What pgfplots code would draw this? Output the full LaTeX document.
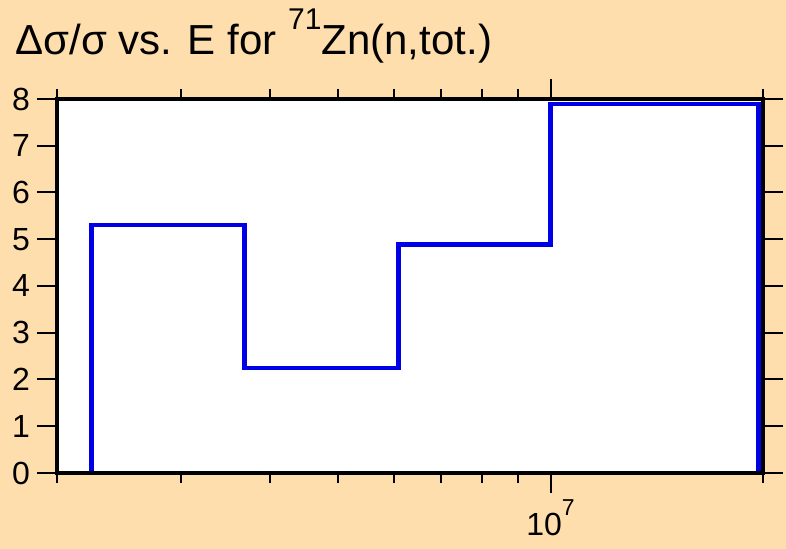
\documentclass[border=0pt]{standalone}
\usepackage{fontspec}
\setmainfont{Liberation Sans}
\usepackage{pgfplots}
\pgfplotsset{compat=1.18}
\definecolor{bgwheat}{HTML}{FFDEAD}
\definecolor{stepblue}{HTML}{0000E6}
\newcommand{\supr}[1]{\raisebox{10pt}{\fontsize{11.5}{12}\selectfont #1}}
\newcommand{\tsupr}[1]{\raisebox{12.5pt}{\fontsize{15}{15}\selectfont #1}}
\begin{document}
\begin{tikzpicture}
\fill[bgwheat] (0,0) rectangle (393pt,274.5pt);
\node[anchor=base west,inner sep=0pt,font=\fontsize{21}{24}\selectfont] at (7.5pt,247pt)
  {Δσ/σ vs. E for \tsupr{71}Zn(n,tot.)};
\begin{axis}[
  at={(28.5pt,38pt)}, anchor=south west,
  scale only axis, width=353pt, height=187pt,
  xmode=log, xmin=2e6, xmax=2e7, ymin=0, ymax=8,
  xtick={1e7}, xticklabels={10\supr{7}},
  minor xtick={2e6,3e6,4e6,5e6,6e6,7e6,8e6,9e6,2e7},
  ytick={0,1,2,3,4,5,6,7,8},
  tick align=outside, major tick length=10pt, minor tick length=5pt,
  axis line style={line width=2pt},
  every tick/.style={black,line width=1pt},
  tick label style={font=\fontsize{16}{19}\selectfont},
  /pgf/number format/assume math mode=true,
  axis background/.style={fill=white},
  axis on top,
]
\addplot[stepblue,line width=2.2pt] coordinates {
  (2.239e6,0) (2.239e6,5.30) (3.687e6,5.30) (3.687e6,2.25)
  (6.09e6,2.25) (6.09e6,4.89) (1.0e7,4.89) (1.0e7,7.89)
  (1.97e7,7.89) (1.97e7,0)
};
\end{axis}
\end{tikzpicture}
\end{document}
